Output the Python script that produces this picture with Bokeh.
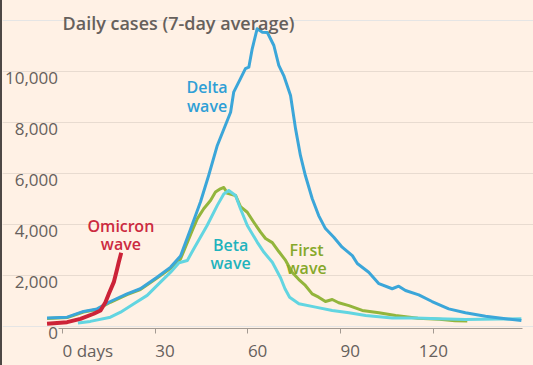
from bokeh.plotting import figure
from bokeh.models import Range1d, FixedTicker, Grid, Label
from bokeh.embed import file_html
from bokeh.resources import INLINE

# ---------------- data ----------------
delta_day = [-5, 1.5, 6.8, 11.2, 15.5, 20.9, 25.2, 30.6, 35, 38.2, 41.4, 44.7, 47.3, 50.1,
             54.4, 55.4, 57.6, 59.2, 60.3, 61.4, 63, 64.7, 66.3, 68.4, 70, 71.6, 73.8, 75.4,
             77, 78.6, 80.8, 82.9, 85.1, 87.8, 90.5, 93.8, 95.4, 99.1, 102.4, 106.7, 108.8,
             111, 115.3, 119.6, 125, 130.4, 136.9, 143.4, 148.5]
delta_val = [330, 365, 590, 690, 980, 1280, 1480, 1930, 2330, 2760, 3800, 4900, 5920, 7100,
             8400, 9190, 9720, 10110, 10170, 10890, 11680, 11540, 11530, 11020, 10240, 9840,
             9060, 7770, 6710, 5920, 5020, 4350, 3840, 3500, 3110, 2780, 2470, 2130, 1680,
             1480, 1580, 1410, 1240, 980, 690, 540, 400, 300, 235]

beta_day = [5, 9, 15.5, 18.8, 23.1, 27.4, 31.7, 35, 37.7, 40.4, 42.5, 46.8, 50.1, 52.2, 53.8,
            56, 57.6, 59.8, 63, 65.2, 67.9, 70.6, 72, 73.5, 76.5, 81.9, 87.3, 92.7, 98.1,
            106.7, 114.2, 121.8, 130.4, 141, 148.5]
beta_val = [140, 200, 365, 560, 890, 1220, 1740, 2130, 2500, 2590, 3050, 3960, 4750, 5200,
            5330, 5140, 4620, 3960, 3310, 2910, 2520, 1900, 1480, 1150, 890, 760, 630, 540,
            430, 330, 330, 300, 275, 290, 300]

first_day = [-5, 1.5, 6.8, 11.2, 15.5, 20.9, 25.2, 30.6, 35, 38.2, 42, 43.6, 45.7, 47.9, 49.5,
             51.1, 52.2, 53.4, 56, 57.6, 59.8, 61.9, 64.1, 65.7, 67.9, 70, 72.2, 74.3, 76.5,
             78.6, 80.8, 82.9, 85.1, 87.3, 89.4, 92.7, 97, 102.4, 107.8, 115, 122, 127, 131]
first_val = [310, 350, 570, 670, 950, 1250, 1450, 1900, 2280, 2650, 3765, 4220, 4620, 4940,
             5270, 5400, 5450, 5220, 5140, 4700, 4480, 4090, 3700, 3450, 3290, 2940, 2590,
             2130, 1840, 1610, 1280, 1150, 980, 1060, 930, 820, 630, 540, 430, 320, 280, 230, 220]

omicron_day = [-5, 1.5, 5.8, 10.1, 12.3, 13.9, 15, 16.6, 17.7, 18.2, 19]
omicron_val = [110, 170, 300, 500, 630, 950, 1280, 1740, 2260, 2520, 2890]

y_ticks = [0, 2000, 4000, 6000, 8000, 10000]
y_labels = ["0", "2,000", "4,000", "6,000", "8,000", "10,000"]
x_ticks = [0, 30, 60, 90, 120]
x_labels = ["0 days", "30", "60", "90", "120"]

title_text = "Daily cases (7-day average)"

# ---------------- styles ----------------
BG = "#fff1e5"
GRID = "#e8dbd0"
AXIS = "#a39a92"
TXT = "#66605c"
FONT = "Open Sans"
SEMI = "'Open Sans SemiBold', 'Open Sans'"
C_DELTA, T_DELTA = "#3ba6d9", "#2f9fd6"
C_BETA, T_BETA = "#62d5e1", "#1fb3bd"
C_FIRST, T_FIRST = "#93b53c", "#86a82a"
C_OMI, T_OMI = "#cc2338", "#cc2a40"

p = figure(width=531, height=365, output_backend="svg", toolbar_location=None,
           title_location=None,
           x_range=Range1d(-19.417, 152.427), y_range=Range1d(-1529.4, 12784.3),
           y_axis_location=None,
           min_border_left=0, min_border_right=0, min_border_top=0, min_border_bottom=0,
           background_fill_color=BG, border_fill_color=BG, outline_line_color=None)

p.xgrid.visible = False
p.add_layout(Grid(dimension=1, ticker=FixedTicker(ticks=y_ticks[1:]), bounds=(0, 148.8),
                  grid_line_color=GRID, grid_line_width=1))

ax = p.xaxis[0]
ax.fixed_location = -59
ax.ticker = FixedTicker(ticks=x_ticks)
ax.bounds = (-1.3, 148.8)
ax.axis_line_color = AXIS
ax.major_tick_line_color = AXIS
ax.major_tick_in = 0
ax.major_tick_out = 5
ax.minor_tick_line_color = None
ax.major_label_text_color = None
ax.major_label_text_font_size = "10px"
ax.major_label_standoff = 0

# lines
p.line(first_day, first_val, line_color=C_FIRST, line_width=3, line_join="round")
p.line(beta_day, beta_val, line_color=C_BETA, line_width=3, line_join="round")
p.line(delta_day, delta_val, line_color=C_DELTA, line_width=3, line_join="round")
p.line(omicron_day, omicron_val, line_color=C_OMI, line_width=4, line_join="round")

# y tick labels
for v, t in zip(y_ticks, y_labels):
    p.add_layout(Label(x=-1.46, y=v, text=t, text_align="right", text_baseline="alphabetic",
                       y_offset=-6.5, text_font=FONT, text_font_size="17px", text_color=TXT))

# x tick labels
for d, t in zip(x_ticks, x_labels):
    p.add_layout(Label(x=d, y=0, text=t,
                       text_align="center" if d == x_ticks[-1] else "left",
                       text_baseline="alphabetic", y_offset=-24,
                       text_font=FONT, text_font_size="17px", text_color=TXT))

# title
p.add_layout(Label(x=0, y=11911, text=title_text, text_align="left", text_baseline="alphabetic",
                   text_font=SEMI, text_font_size="18px", text_color=TXT))

# series annotations
for x, y, t, c in [(46.8, 9020, "Delta\nwave", T_DELTA),
                   (18.9, 3580, "Omicron\nwave", T_OMI),
                   (54.4, 2850, "Beta\nwave", T_BETA),
                   (79.0, 2650, "First\nwave", T_FIRST)]:
    p.add_layout(Label(x=x, y=y, text=t, text_align="center", text_baseline="middle",
                       text_font=SEMI, text_font_size="16px",
                       text_line_height=0.825, text_color=c))

template = """
{% block postamble %}
<style>
html{background:linear-gradient(to right,#4d4845 0,#4d4845 2px,#fff1e5 2px);}
body{padding-left:2px !important;}
</style>
{% endblock %}
"""

open("out.html", "w").write(file_html(p, INLINE, "Daily cases", template=template))
